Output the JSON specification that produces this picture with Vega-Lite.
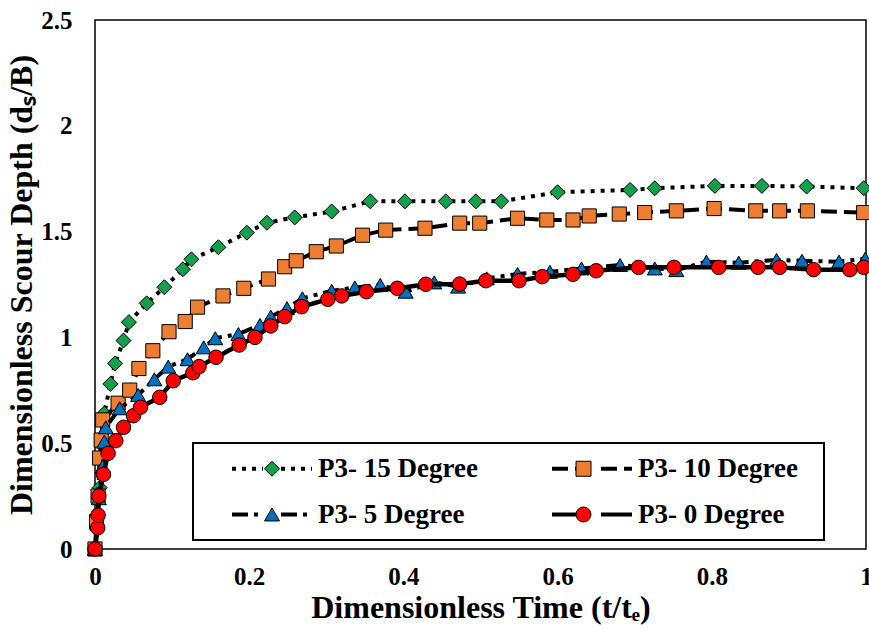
{
  "$schema": "https://vega.github.io/schema/vega-lite/v6.json",
  "width": 771,
  "height": 529,
  "autosize": {"type": "none"},
  "padding": {"left": 95, "top": 20, "right": 3, "bottom": 79},
  "background": "white",
  "config": {
    "view": {"stroke": "black", "strokeWidth": 1.5},
    "font": "Liberation Serif",
    "axis": {"grid": false, "ticks": false, "domain": false, "labelFont": "Liberation Serif", "labelFontWeight": "bold", "labelFontSize": 25, "labelColor": "black", "titleFont": "Liberation Serif", "titleFontWeight": "bold", "titleFontSize": 32, "titleColor": "black", "labelFlush": false}
  },
  "data": {"values": [
    {"series": "P3- 15 Degree", "t": 0, "d": 0},
    {"series": "P3- 15 Degree", "t": 0.003, "d": 0.15},
    {"series": "P3- 15 Degree", "t": 0.006, "d": 0.29},
    {"series": "P3- 15 Degree", "t": 0.009, "d": 0.43},
    {"series": "P3- 15 Degree", "t": 0.012, "d": 0.64},
    {"series": "P3- 15 Degree", "t": 0.02, "d": 0.78},
    {"series": "P3- 15 Degree", "t": 0.026, "d": 0.877},
    {"series": "P3- 15 Degree", "t": 0.037, "d": 0.985},
    {"series": "P3- 15 Degree", "t": 0.044, "d": 1.072},
    {"series": "P3- 15 Degree", "t": 0.067, "d": 1.161},
    {"series": "P3- 15 Degree", "t": 0.09, "d": 1.237},
    {"series": "P3- 15 Degree", "t": 0.114, "d": 1.322},
    {"series": "P3- 15 Degree", "t": 0.125, "d": 1.369},
    {"series": "P3- 15 Degree", "t": 0.16, "d": 1.426},
    {"series": "P3- 15 Degree", "t": 0.197, "d": 1.495},
    {"series": "P3- 15 Degree", "t": 0.223, "d": 1.542},
    {"series": "P3- 15 Degree", "t": 0.259, "d": 1.567},
    {"series": "P3- 15 Degree", "t": 0.307, "d": 1.595},
    {"series": "P3- 15 Degree", "t": 0.357, "d": 1.643},
    {"series": "P3- 15 Degree", "t": 0.402, "d": 1.643},
    {"series": "P3- 15 Degree", "t": 0.455, "d": 1.643},
    {"series": "P3- 15 Degree", "t": 0.494, "d": 1.643},
    {"series": "P3- 15 Degree", "t": 0.527, "d": 1.643},
    {"series": "P3- 15 Degree", "t": 0.6, "d": 1.686},
    {"series": "P3- 15 Degree", "t": 0.694, "d": 1.697},
    {"series": "P3- 15 Degree", "t": 0.726, "d": 1.705},
    {"series": "P3- 15 Degree", "t": 0.804, "d": 1.716},
    {"series": "P3- 15 Degree", "t": 0.865, "d": 1.716},
    {"series": "P3- 15 Degree", "t": 0.923, "d": 1.713},
    {"series": "P3- 15 Degree", "t": 0.997, "d": 1.705},
    {"series": "P3- 10 Degree", "t": 0, "d": 0},
    {"series": "P3- 10 Degree", "t": 0.002, "d": 0.13},
    {"series": "P3- 10 Degree", "t": 0.004, "d": 0.25},
    {"series": "P3- 10 Degree", "t": 0.006, "d": 0.43},
    {"series": "P3- 10 Degree", "t": 0.008, "d": 0.515},
    {"series": "P3- 10 Degree", "t": 0.01, "d": 0.61},
    {"series": "P3- 10 Degree", "t": 0.03, "d": 0.689},
    {"series": "P3- 10 Degree", "t": 0.045, "d": 0.751},
    {"series": "P3- 10 Degree", "t": 0.057, "d": 0.853},
    {"series": "P3- 10 Degree", "t": 0.075, "d": 0.937},
    {"series": "P3- 10 Degree", "t": 0.096, "d": 1.027},
    {"series": "P3- 10 Degree", "t": 0.117, "d": 1.075},
    {"series": "P3- 10 Degree", "t": 0.133, "d": 1.143},
    {"series": "P3- 10 Degree", "t": 0.166, "d": 1.196},
    {"series": "P3- 10 Degree", "t": 0.193, "d": 1.232},
    {"series": "P3- 10 Degree", "t": 0.225, "d": 1.276},
    {"series": "P3- 10 Degree", "t": 0.246, "d": 1.334},
    {"series": "P3- 10 Degree", "t": 0.261, "d": 1.362},
    {"series": "P3- 10 Degree", "t": 0.287, "d": 1.405},
    {"series": "P3- 10 Degree", "t": 0.313, "d": 1.432},
    {"series": "P3- 10 Degree", "t": 0.347, "d": 1.483},
    {"series": "P3- 10 Degree", "t": 0.377, "d": 1.507},
    {"series": "P3- 10 Degree", "t": 0.428, "d": 1.516},
    {"series": "P3- 10 Degree", "t": 0.473, "d": 1.54},
    {"series": "P3- 10 Degree", "t": 0.499, "d": 1.54},
    {"series": "P3- 10 Degree", "t": 0.548, "d": 1.563},
    {"series": "P3- 10 Degree", "t": 0.586, "d": 1.555},
    {"series": "P3- 10 Degree", "t": 0.62, "d": 1.555},
    {"series": "P3- 10 Degree", "t": 0.641, "d": 1.574},
    {"series": "P3- 10 Degree", "t": 0.68, "d": 1.583},
    {"series": "P3- 10 Degree", "t": 0.713, "d": 1.59},
    {"series": "P3- 10 Degree", "t": 0.754, "d": 1.598},
    {"series": "P3- 10 Degree", "t": 0.803, "d": 1.609},
    {"series": "P3- 10 Degree", "t": 0.857, "d": 1.598},
    {"series": "P3- 10 Degree", "t": 0.888, "d": 1.598},
    {"series": "P3- 10 Degree", "t": 0.924, "d": 1.598},
    {"series": "P3- 10 Degree", "t": 0.997, "d": 1.59},
    {"series": "P3- 5 Degree", "t": 0, "d": 0},
    {"series": "P3- 5 Degree", "t": 0.003, "d": 0.12},
    {"series": "P3- 5 Degree", "t": 0.005, "d": 0.24},
    {"series": "P3- 5 Degree", "t": 0.01, "d": 0.39},
    {"series": "P3- 5 Degree", "t": 0.012, "d": 0.507},
    {"series": "P3- 5 Degree", "t": 0.014, "d": 0.575},
    {"series": "P3- 5 Degree", "t": 0.032, "d": 0.665},
    {"series": "P3- 5 Degree", "t": 0.056, "d": 0.728},
    {"series": "P3- 5 Degree", "t": 0.077, "d": 0.802},
    {"series": "P3- 5 Degree", "t": 0.095, "d": 0.862},
    {"series": "P3- 5 Degree", "t": 0.12, "d": 0.897},
    {"series": "P3- 5 Degree", "t": 0.141, "d": 0.953},
    {"series": "P3- 5 Degree", "t": 0.156, "d": 0.996},
    {"series": "P3- 5 Degree", "t": 0.186, "d": 1.016},
    {"series": "P3- 5 Degree", "t": 0.214, "d": 1.059},
    {"series": "P3- 5 Degree", "t": 0.228, "d": 1.098},
    {"series": "P3- 5 Degree", "t": 0.249, "d": 1.138},
    {"series": "P3- 5 Degree", "t": 0.269, "d": 1.185},
    {"series": "P3- 5 Degree", "t": 0.307, "d": 1.22},
    {"series": "P3- 5 Degree", "t": 0.337, "d": 1.236},
    {"series": "P3- 5 Degree", "t": 0.37, "d": 1.248},
    {"series": "P3- 5 Degree", "t": 0.403, "d": 1.216},
    {"series": "P3- 5 Degree", "t": 0.44, "d": 1.26},
    {"series": "P3- 5 Degree", "t": 0.471, "d": 1.24},
    {"series": "P3- 5 Degree", "t": 0.508, "d": 1.279},
    {"series": "P3- 5 Degree", "t": 0.548, "d": 1.3},
    {"series": "P3- 5 Degree", "t": 0.59, "d": 1.31},
    {"series": "P3- 5 Degree", "t": 0.631, "d": 1.326},
    {"series": "P3- 5 Degree", "t": 0.681, "d": 1.342},
    {"series": "P3- 5 Degree", "t": 0.726, "d": 1.326},
    {"series": "P3- 5 Degree", "t": 0.754, "d": 1.318},
    {"series": "P3- 5 Degree", "t": 0.793, "d": 1.358},
    {"series": "P3- 5 Degree", "t": 0.835, "d": 1.353},
    {"series": "P3- 5 Degree", "t": 0.884, "d": 1.366},
    {"series": "P3- 5 Degree", "t": 0.917, "d": 1.362},
    {"series": "P3- 5 Degree", "t": 0.965, "d": 1.358},
    {"series": "P3- 5 Degree", "t": 0.999, "d": 1.372},
    {"series": "P3- 0 Degree", "t": 0, "d": 0},
    {"series": "P3- 0 Degree", "t": 0.0035, "d": 0.1},
    {"series": "P3- 0 Degree", "t": 0.004, "d": 0.16},
    {"series": "P3- 0 Degree", "t": 0.005, "d": 0.25},
    {"series": "P3- 0 Degree", "t": 0.011, "d": 0.353},
    {"series": "P3- 0 Degree", "t": 0.017, "d": 0.452},
    {"series": "P3- 0 Degree", "t": 0.027, "d": 0.512},
    {"series": "P3- 0 Degree", "t": 0.037, "d": 0.575},
    {"series": "P3- 0 Degree", "t": 0.05, "d": 0.63},
    {"series": "P3- 0 Degree", "t": 0.059, "d": 0.67},
    {"series": "P3- 0 Degree", "t": 0.084, "d": 0.717},
    {"series": "P3- 0 Degree", "t": 0.1015, "d": 0.795},
    {"series": "P3- 0 Degree", "t": 0.127, "d": 0.833},
    {"series": "P3- 0 Degree", "t": 0.135, "d": 0.862},
    {"series": "P3- 0 Degree", "t": 0.157, "d": 0.906},
    {"series": "P3- 0 Degree", "t": 0.187, "d": 0.964},
    {"series": "P3- 0 Degree", "t": 0.2075, "d": 1.0},
    {"series": "P3- 0 Degree", "t": 0.228, "d": 1.054},
    {"series": "P3- 0 Degree", "t": 0.246, "d": 1.098},
    {"series": "P3- 0 Degree", "t": 0.268, "d": 1.145},
    {"series": "P3- 0 Degree", "t": 0.302, "d": 1.18},
    {"series": "P3- 0 Degree", "t": 0.32, "d": 1.196},
    {"series": "P3- 0 Degree", "t": 0.352, "d": 1.216},
    {"series": "P3- 0 Degree", "t": 0.392, "d": 1.232},
    {"series": "P3- 0 Degree", "t": 0.429, "d": 1.251},
    {"series": "P3- 0 Degree", "t": 0.473, "d": 1.252},
    {"series": "P3- 0 Degree", "t": 0.507, "d": 1.268},
    {"series": "P3- 0 Degree", "t": 0.55, "d": 1.268},
    {"series": "P3- 0 Degree", "t": 0.58, "d": 1.287},
    {"series": "P3- 0 Degree", "t": 0.62, "d": 1.298},
    {"series": "P3- 0 Degree", "t": 0.65, "d": 1.315},
    {"series": "P3- 0 Degree", "t": 0.705, "d": 1.331},
    {"series": "P3- 0 Degree", "t": 0.751, "d": 1.331},
    {"series": "P3- 0 Degree", "t": 0.809, "d": 1.331},
    {"series": "P3- 0 Degree", "t": 0.86, "d": 1.331},
    {"series": "P3- 0 Degree", "t": 0.888, "d": 1.331},
    {"series": "P3- 0 Degree", "t": 0.932, "d": 1.32},
    {"series": "P3- 0 Degree", "t": 0.979, "d": 1.32},
    {"series": "P3- 0 Degree", "t": 0.997, "d": 1.331}
  ]},
  "encoding": {
    "x": {"field": "t", "type": "quantitative", "scale": {"domain": [0, 1], "nice": false, "zero": false},
          "axis": {"values": [0, 0.2, 0.4, 0.6, 0.8, 1], "format": "~g", "labelPadding": 15, "title": "Dimensionless Time (t/tₑ)", "titlePadding": 3}},
    "y": {"field": "d", "type": "quantitative", "scale": {"domain": [0, 2.5], "nice": false, "zero": false},
          "axis": {"values": [0, 0.5, 1, 1.5, 2, 2.5], "format": "~g", "labelPadding": 23, "title": "Dimensionless Scour Depth (dₛ/B)", "titlePadding": 2}}
  },
  "layer": [
    {"transform": [{"filter": {"field": "series", "equal": "P3- 15 Degree"}}],
     "mark": {"type": "line", "color": "black", "strokeWidth": 4},
     "encoding": {"strokeDash": {"field": "series", "type": "nominal",
        "scale": {"domain": ["P3- 15 Degree", "P3- 10 Degree", "P3- 5 Degree", "P3- 0 Degree"], "range": [[4, 6], [16, 7], [16, 6, 4, 6], [1, 0]]},
        "legend": {"orient": "none", "legendX": 98, "legendY": 423, "columns": 2, "direction": "horizontal", "title": null,
          "symbolType": "M-6.667,0L-1.5,0M1.5,0L6.667,0M35.17,0", "symbolSize": 144, "symbolStrokeWidth": 4, "symbolStrokeColor": "black",
          "labelFont": "Liberation Serif", "labelFontWeight": "bold", "labelFontSize": 27, "labelColor": "black", "labelLimit": 400,
          "labelOffset": 32.5, "symbolOffset": 53.5, "padding": 12, "rowPadding": 18, "columnPadding": 33,
          "strokeColor": "black", "fillColor": "white",
          "encode": {"legend": {"update": {"strokeWidth": {"value": 2}}}}}}}},
    {"transform": [{"filter": {"field": "series", "equal": "P3- 15 Degree"}}],
     "mark": {"type": "point", "filled": true, "stroke": "black", "strokeWidth": 1, "opacity": 1, "size": 225},
     "encoding": {
       "shape": {"field": "series", "type": "nominal",
         "scale": {"domain": ["P3- 0 Degree", "P3- 5 Degree", "P3- 10 Degree", "P3- 15 Degree"], "range": ["circle", "triangle-up", "square", "diamond"]},
         "legend": {"orient": "none", "legendX": 98, "legendY": 423, "columns": 2, "direction": "horizontal", "title": null,
           "values": ["P3- 15 Degree", "P3- 10 Degree", "P3- 5 Degree", "P3- 0 Degree"],
           "symbolSize": 225, "symbolStrokeColor": "black", "symbolStrokeWidth": 1,
           "labelExpr": "''", "labelFontSize": 27, "labelOffset": 0, "symbolOffset": 53.5, "padding": 12, "rowPadding": 18, "columnPadding": 230.5}},
       "color": {"field": "series", "type": "nominal",
         "scale": {"domain": ["P3- 0 Degree", "P3- 5 Degree", "P3- 10 Degree", "P3- 15 Degree"], "range": ["#FF0000", "#0070C0", "#ED7D31", "#12A04A"]},
         "legend": {"orient": "none", "legendX": 98, "legendY": 423, "columns": 2, "direction": "horizontal", "title": null,
           "values": ["P3- 15 Degree", "P3- 10 Degree", "P3- 5 Degree", "P3- 0 Degree"],
           "symbolSize": 225, "symbolStrokeColor": "black", "symbolStrokeWidth": 1,
           "labelExpr": "''", "labelFontSize": 27, "labelOffset": 0, "symbolOffset": 53.5, "padding": 12, "rowPadding": 18, "columnPadding": 230.5}}}},
    {"transform": [{"filter": {"field": "series", "equal": "P3- 10 Degree"}}],
     "mark": {"type": "line", "color": "black", "strokeWidth": 4},
     "encoding": {"strokeDash": {"field": "series", "type": "nominal",
        "scale": {"domain": ["P3- 15 Degree", "P3- 10 Degree", "P3- 5 Degree", "P3- 0 Degree"], "range": [[4, 6], [16, 7], [16, 6, 4, 6], [1, 0]]}}}},
    {"transform": [{"filter": {"field": "series", "equal": "P3- 10 Degree"}}],
     "mark": {"type": "point", "filled": true, "stroke": "black", "strokeWidth": 1, "opacity": 1, "size": 200},
     "encoding": {
       "shape": {"field": "series", "type": "nominal", "scale": {"domain": ["P3- 0 Degree", "P3- 5 Degree", "P3- 10 Degree", "P3- 15 Degree"], "range": ["circle", "triangle-up", "square", "diamond"]}},
       "color": {"field": "series", "type": "nominal", "scale": {"domain": ["P3- 0 Degree", "P3- 5 Degree", "P3- 10 Degree", "P3- 15 Degree"], "range": ["#FF0000", "#0070C0", "#ED7D31", "#12A04A"]}}}},
    {"transform": [{"filter": {"field": "series", "equal": "P3- 5 Degree"}}],
     "mark": {"type": "line", "color": "black", "strokeWidth": 4},
     "encoding": {"strokeDash": {"field": "series", "type": "nominal",
        "scale": {"domain": ["P3- 15 Degree", "P3- 10 Degree", "P3- 5 Degree", "P3- 0 Degree"], "range": [[4, 6], [16, 7], [16, 6, 4, 6], [1, 0]]}}}},
    {"transform": [{"filter": {"field": "series", "equal": "P3- 5 Degree"}}],
     "mark": {"type": "point", "filled": true, "stroke": "black", "strokeWidth": 1, "opacity": 1, "size": 225},
     "encoding": {
       "shape": {"field": "series", "type": "nominal", "scale": {"domain": ["P3- 0 Degree", "P3- 5 Degree", "P3- 10 Degree", "P3- 15 Degree"], "range": ["circle", "triangle-up", "square", "diamond"]}},
       "color": {"field": "series", "type": "nominal", "scale": {"domain": ["P3- 0 Degree", "P3- 5 Degree", "P3- 10 Degree", "P3- 15 Degree"], "range": ["#FF0000", "#0070C0", "#ED7D31", "#12A04A"]}}}},
    {"transform": [{"filter": {"field": "series", "equal": "P3- 0 Degree"}}],
     "mark": {"type": "line", "color": "black", "strokeWidth": 4.5},
     "encoding": {"strokeDash": {"field": "series", "type": "nominal",
        "scale": {"domain": ["P3- 15 Degree", "P3- 10 Degree", "P3- 5 Degree", "P3- 0 Degree"], "range": [[4, 6], [16, 7], [16, 6, 4, 6], [1, 0]]}}}},
    {"transform": [{"filter": {"field": "series", "equal": "P3- 0 Degree"}}],
     "mark": {"type": "point", "filled": true, "stroke": "black", "strokeWidth": 1, "opacity": 1, "size": 210},
     "encoding": {
       "shape": {"field": "series", "type": "nominal", "scale": {"domain": ["P3- 0 Degree", "P3- 5 Degree", "P3- 10 Degree", "P3- 15 Degree"], "range": ["circle", "triangle-up", "square", "diamond"]}},
       "color": {"field": "series", "type": "nominal", "scale": {"domain": ["P3- 0 Degree", "P3- 5 Degree", "P3- 10 Degree", "P3- 15 Degree"], "range": ["#FF0000", "#0070C0", "#ED7D31", "#12A04A"]}}}}
  ]
}
